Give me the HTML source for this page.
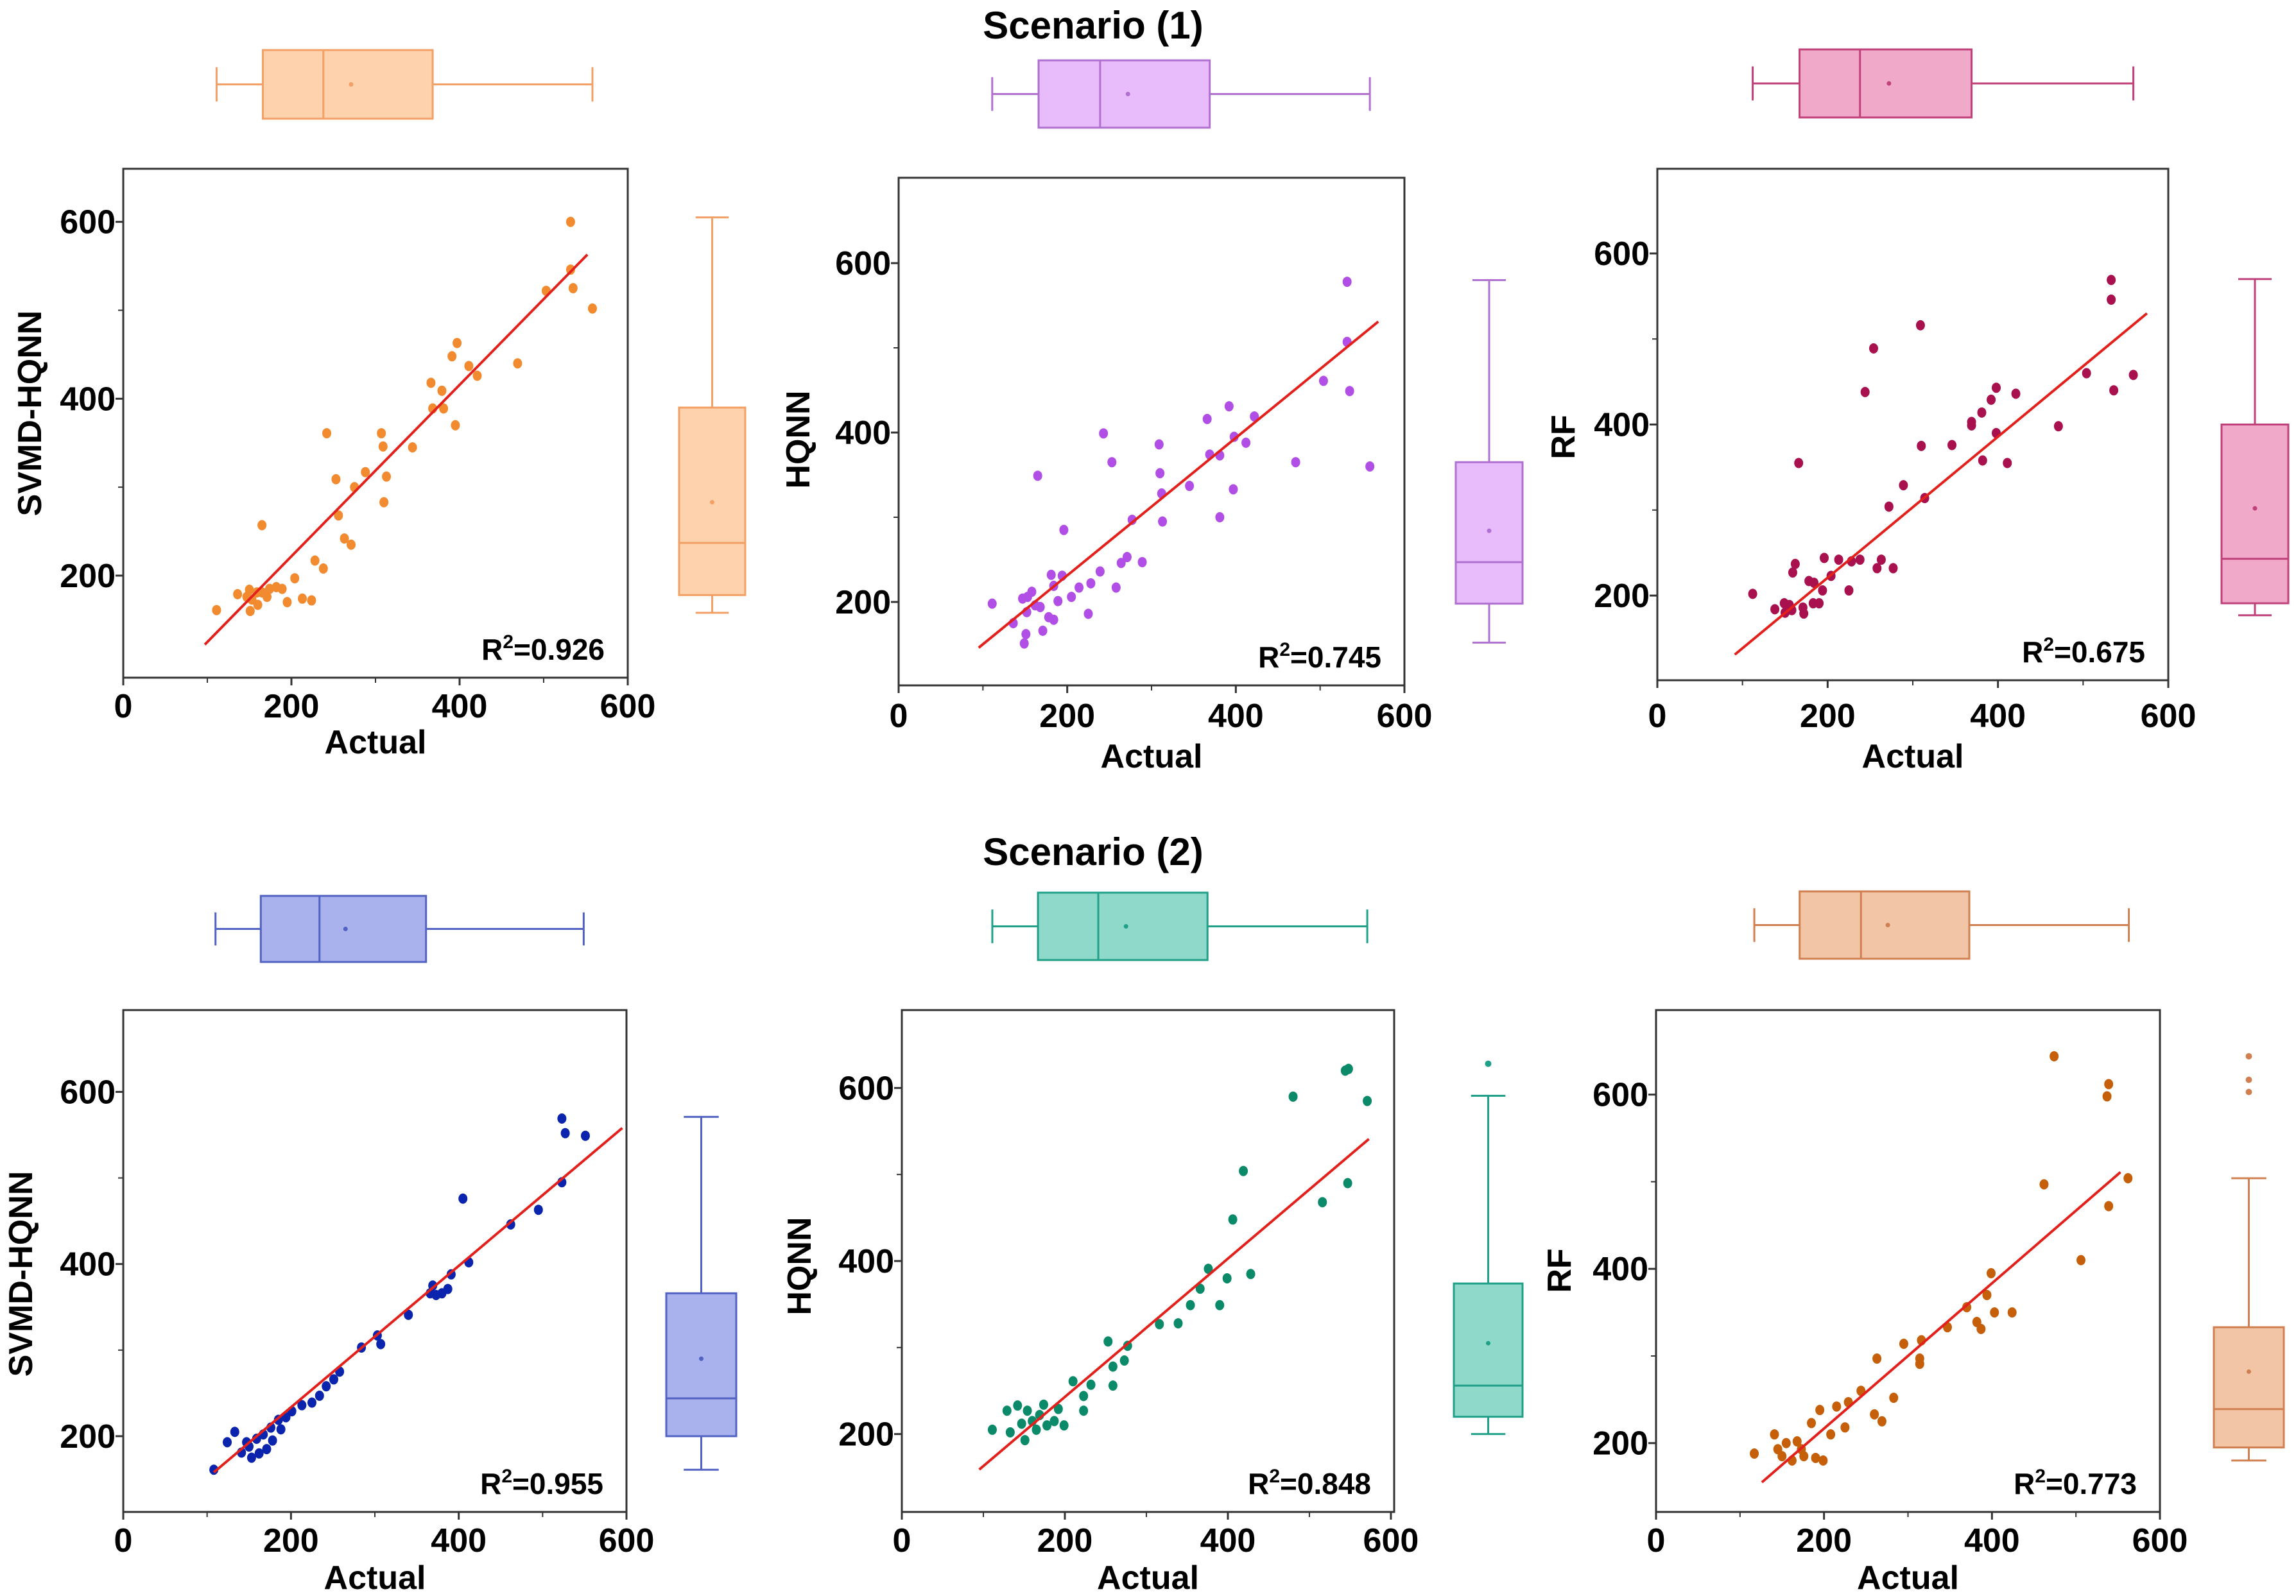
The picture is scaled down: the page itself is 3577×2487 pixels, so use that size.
<!DOCTYPE html>
<html><head><meta charset="utf-8"><title>Scenario scatter plots</title>
<style>
html,body{margin:0;padding:0;background:#fff;}
svg{display:block;font-family:"Liberation Sans",Arial,sans-serif;}
</style></head>
<body>
<svg id="chart" width="3577" height="2487" viewBox="0 0 3577 2487" xmlns="http://www.w3.org/2000/svg">
<rect x="0" y="0" width="3577" height="2487" fill="#fff"/>
<text x="1703" y="60" font-size="60" font-weight="bold" text-anchor="middle">Scenario (1)</text>
<text x="1703" y="1348" font-size="60" font-weight="bold" text-anchor="middle">Scenario (2)</text>
</svg>
<script>
// ---------- shared tick labels ----------
const xTicks = [0, 200, 400, 600];
const yTicks = [200, 400, 600];
const xMinorTicks = [100, 300, 500];
const yMinorTicks = [300, 500];
const panelNames = ["SVMD-HQNN", "HQNN", "RF", "SVMD-HQNN", "HQNN", "RF"];
const r2Labels = ["0.926", "0.745", "0.675", "0.955", "0.848", "0.773"];

// ---------- Panel 1: Scenario 1, SVMD-HQNN ----------
const p1Actual = [532,532,535,503,558,397,391,411,421,469,366,379,368,381,395,242,307,309,344,288,253,313,275,310,256,165,263,271,228,238,204,136,150,159,174,182,189,171,153,160,151,195,213,224,111,147,165];
const p1Pred   = [600,546,525,522,502,463,448,437,426,440,418,409,389,389,370,361,361,346,345,317,309,312,300,283,268,257,242,235,217,208,197,179,184,181,185,187,185,176,173,167,160,170,174,172,161,176,181];
const p1FitX = [97, 552];
const p1FitY = [122, 563];
const p1TopBox = [111, 166, 238, 368, 558, 271];
const p1RightBox = [158, 178, 237, 390, 605, 283];
const p1Outliers = [];

// ---------- Panel 2: Scenario 1, HQNN ----------
const p2Actual = [532,532,504,535,559,471,392,422,366,398,412,369,381,397,381,345,309,310,312,313,243,253,165,277,196,271,264,289,258,239,228,214,205,189,194,181,184,225,111,136,147,158,162,168,152,151,149,171,178,184,153];
const p2Pred   = [578,507,461,449,360,365,431,419,416,395,388,374,373,333,300,337,386,352,328,295,399,365,349,297,285,253,246,247,217,236,222,217,206,201,231,232,219,186,198,175,204,212,196,194,188,162,151,166,182,179,206];
const p2FitX = [95, 569];
const p2FitY = [146, 531];
const p2TopBox = [111, 166, 239, 369, 559, 272];
const p2RightBox = [152, 198, 247, 365, 580, 284];
const p2Outliers = [];

// ---------- Panel 3: Scenario 1, RF ----------
const p3Actual = [533,533,309,254,504,559,536,244,398,421,392,381,369,369,398,471,310,346,382,411,166,289,314,272,196,213,228,238,263,258,277,162,159,204,178,184,194,225,112,138,149,150,158,171,172,183,190,155];
const p3Pred   = [569,546,516,489,460,458,440,438,443,436,429,414,403,399,390,398,375,376,358,355,355,329,314,304,244,242,240,242,242,232,232,237,227,223,217,215,206,206,202,184,191,180,183,186,179,191,191,189];
const p3FitX = [91, 575];
const p3FitY = [131, 530];
const p3TopBox = [112, 167, 238, 369, 559, 272];
const p3RightBox = [177, 191, 243, 400, 570, 302];
const p3Outliers = [];

// ---------- Panel 4: Scenario 2, SVMD-HQNN ----------
const p4Actual = [108,523,527,551,523,495,462,405,412,387,391,366,373,380,369,340,303,307,284,258,251,242,234,225,213,201,194,185,176,167,159,150,141,133,162,171,153,178,188,124,147];
const p4Pred   = [161,569,552,549,495,463,446,476,402,371,388,366,364,366,375,341,317,307,303,275,266,258,247,239,236,229,222,219,210,202,197,188,181,205,180,185,175,195,208,193,193];
const p4FitX = [108, 595];
const p4FitY = [158, 558];
const p4TopBox = [110, 164, 234, 361, 549, 265];
const p4RightBox = [161, 200, 244, 366, 571, 290];
const p4Outliers = [];

// ---------- Panel 5: Scenario 2, HQNN ----------
const p5Actual = [548,544,571,480,547,516,419,406,428,399,376,390,354,366,316,339,273,259,277,253,232,223,210,192,174,160,142,129,111,133,151,165,178,187,154,169,147,199,223,259];
const p5Pred   = [622,620,585,590,490,468,504,448,385,380,391,349,349,368,327,328,285,278,302,307,257,244,261,229,234,215,233,227,205,202,193,205,210,215,227,222,212,210,227,256];
const p5FitX = [95, 573];
const p5FitY = [159, 541];
const p5TopBox = [111, 167, 241, 375, 571, 275];
const p5RightBox = [200, 220, 256, 374, 591, 305];
const p5Outliers = [628];

// ---------- Panel 6: Scenario 2, RF ----------
const p6Actual = [474,539,537,562,462,539,506,399,394,424,370,382,387,403,347,316,295,314,314,263,283,260,269,244,229,215,195,185,225,208,141,117,155,173,190,162,150,176,199,145,168];
const p6Pred   = [644,612,598,504,497,472,410,395,370,350,356,339,331,350,333,318,314,297,291,297,252,233,225,260,247,242,238,223,218,210,210,188,200,193,183,180,185,185,180,193,202];
const p6FitX = [126, 553];
const p6FitY = [155, 511];
const p6TopBox = [117, 171, 244, 373, 563, 276];
const p6RightBox = [180, 195, 239, 333, 504, 282];
const p6Outliers = [644, 617, 603];

// ---------- layout (pixel geometry, not data) ----------
const layout = [
 {L:192,R:978,T:263,B:1056,xMax:600,yMin:84.6,yMax:660,tb:[78,185],rb:[1058,1161],yt:[46,644],xl:1100,xt:1156,pt:"#f28a30",bf:"#fdd2ad",bs:"#f2a066"},
 {L:1400,R:2188,T:277,B:1068,xMax:600,yMin:101.5,yMax:700.8,tb:[94,199],rb:[2268,2372],yt:[1243,685],xl:1115,xt:1178,pt:"#b14ee6",bf:"#e8bcfb",bs:"#b070d0"},
 {L:2582,R:3378,T:263,B:1060,xMax:600,yMin:101,yMax:699,tb:[77,183],rb:[3461,3565],yt:[2435,681],xl:1115,xt:1178,pt:"#a8104e",bf:"#f0a9c9",bs:"#c0407a"},
 {L:192,R:976,T:1574,B:2356,xMax:600,yMin:112,yMax:695,tb:[1396,1499],rb:[1038,1147],yt:[32,1985],xl:2400,xt:2458,pt:"#0a24ad",bf:"#a9b2ec",bs:"#5262c2"},
 {L:1405,R:2172,T:1574,B:2356,xMax:604,yMin:110,yMax:690,tb:[1391,1496],rb:[2265,2372],yt:[1245,1973],xl:2400,xt:2458,pt:"#0a8a68",bf:"#8ed9c9",bs:"#20a088"},
 {L:2580,R:3365,T:1574,B:2356,xMax:600,yMin:121,yMax:697,tb:[1389,1494],rb:[3449,3558],yt:[2429,1980],xl:2400,xt:2458,pt:"#c55f0a",bf:"#f1c5a5",bs:"#d08050"}
];
const actuals = [p1Actual,p2Actual,p3Actual,p4Actual,p5Actual,p6Actual];
const preds = [p1Pred,p2Pred,p3Pred,p4Pred,p5Pred,p6Pred];
const fitXs = [p1FitX,p2FitX,p3FitX,p4FitX,p5FitX,p6FitX];
const fitYs = [p1FitY,p2FitY,p3FitY,p4FitY,p5FitY,p6FitY];
const topBoxes = [p1TopBox,p2TopBox,p3TopBox,p4TopBox,p5TopBox,p6TopBox];
const rightBoxes = [p1RightBox,p2RightBox,p3RightBox,p4RightBox,p5RightBox,p6RightBox];
const outliers = [p1Outliers,p2Outliers,p3Outliers,p4Outliers,p5Outliers,p6Outliers];

const NS = "http://www.w3.org/2000/svg";
const svg = document.getElementById("chart");
function mk(tag, attrs, parent) {
  const e = document.createElementNS(NS, tag);
  for (const k in attrs) e.setAttribute(k, attrs[k]);
  (parent || svg).appendChild(e);
  return e;
}

layout.forEach((g, i) => {
  const sx = v => g.L + (v / g.xMax) * (g.R - g.L);
  const sy = v => g.B - (v - g.yMin) / (g.yMax - g.yMin) * (g.B - g.T);
  const grp = mk("g", {});
  
  

  const fr = mk("rect", {x:g.L, y:g.T, width:g.R-g.L, height:g.B-g.T, fill:"none", stroke:"#333", "stroke-width":3}, grp);
  
  

  xTicks.forEach(t => {
    const tk = mk("line", {x1:sx(t), x2:sx(t), y1:g.B, y2:g.B+12, stroke:"#333", "stroke-width":3}, grp);
    
    
    const lb = mk("text", {x:sx(t), y:g.xl+18, "font-size":52, "font-weight":"bold", "text-anchor":"middle"}, grp);
    lb.textContent = t;
    
    
  });
  xMinorTicks.forEach(t => {
    const tk = mk("line", {x1:sx(t), x2:sx(t), y1:g.B, y2:g.B+8, stroke:"#333", "stroke-width":2}, grp);
    
    
  });
  yTicks.forEach(t => {
    const tk = mk("line", {x1:g.L-12, x2:g.L, y1:sy(t), y2:sy(t), stroke:"#333", "stroke-width":3}, grp);
    
    
    const lb = mk("text", {x:g.L-12, y:sy(t)+18, "font-size":52, "font-weight":"bold", "text-anchor":"end"}, grp);
    lb.textContent = t;
    
    
  });
  yMinorTicks.forEach(t => {
    const tk = mk("line", {x1:g.L-8, x2:g.L, y1:sy(t), y2:sy(t), stroke:"#333", "stroke-width":2}, grp);
    
    
  });

  const xt = mk("text", {x:(g.L+g.R)/2, y:g.xt+18, "font-size":52, "font-weight":"bold", "text-anchor":"middle"}, grp);
  xt.textContent = "Actual";
  
  
  const yt = mk("text", {x:0, y:0, "font-size":52, "font-weight":"bold", "text-anchor":"middle", transform:"translate(" + (g.yt[0]+18) + "," + g.yt[1] + ") rotate(-90)"}, grp);
  yt.textContent = panelNames[i];
  
  

  actuals[i].forEach((a, j) => {
    const c = mk("ellipse", {cx:sx(a), cy:sy(preds[i][j]), rx:7, ry:8, fill:g.pt}, grp);
    
    
  });

  const fl = mk("line", {x1:sx(fitXs[i][0]), y1:sy(fitYs[i][0]), x2:sx(fitXs[i][1]), y2:sy(fitYs[i][1]), stroke:"#e3211c", "stroke-width":4}, grp);
  
  

  const r2 = mk("text", {x:g.R-36, y:g.B-28, "font-size":46, "font-weight":"bold", "text-anchor":"end"}, grp);
  r2.innerHTML = 'R<tspan dy="-18" font-size="30">2</tspan><tspan dy="18">=' + r2Labels[i] + '</tspan>';
  
  

  const tb = topBoxes[i];
  const y0 = g.tb[0], y1 = g.tb[1], ym = (y0 + y1) / 2, ch = (y1 - y0) * 0.25;
  const tg = mk("g", {stroke:g.bs, "stroke-width":3, fill:"none"}, grp);
  
  
  mk("line", {x1:sx(tb[0]), x2:sx(tb[1]), y1:ym, y2:ym}, tg);
  mk("line", {x1:sx(tb[3]), x2:sx(tb[4]), y1:ym, y2:ym}, tg);
  mk("line", {x1:sx(tb[0]), x2:sx(tb[0]), y1:ym-ch, y2:ym+ch}, tg);
  mk("line", {x1:sx(tb[4]), x2:sx(tb[4]), y1:ym-ch, y2:ym+ch}, tg);
  mk("rect", {x:sx(tb[1]), y:y0, width:sx(tb[3])-sx(tb[1]), height:y1-y0, fill:g.bf}, tg);
  mk("line", {x1:sx(tb[2]), x2:sx(tb[2]), y1:y0, y2:y1}, tg);
  mk("circle", {cx:sx(tb[5]), cy:ym, r:2, fill:g.bs}, tg);

  const rb = rightBoxes[i];
  const x0 = g.rb[0], x1 = g.rb[1], xm = (x0 + x1) / 2, cw = (x1 - x0) * 0.25;
  const rg = mk("g", {stroke:g.bs, "stroke-width":3, fill:"none"}, grp);
  
  
  mk("line", {x1:xm, x2:xm, y1:sy(rb[0]), y2:sy(rb[1])}, rg);
  mk("line", {x1:xm, x2:xm, y1:sy(rb[3]), y2:sy(rb[4])}, rg);
  mk("line", {x1:xm-cw, x2:xm+cw, y1:sy(rb[0]), y2:sy(rb[0])}, rg);
  mk("line", {x1:xm-cw, x2:xm+cw, y1:sy(rb[4]), y2:sy(rb[4])}, rg);
  mk("rect", {x:x0, y:sy(rb[3]), width:x1-x0, height:sy(rb[1])-sy(rb[3]), fill:g.bf}, rg);
  mk("line", {x1:x0, x2:x1, y1:sy(rb[2]), y2:sy(rb[2])}, rg);
  mk("circle", {cx:xm, cy:sy(rb[5]), r:2, fill:g.bs}, rg);
  outliers[i].forEach(o => {
    const od = mk("circle", {cx:xm, cy:sy(o), r:5, fill:g.bs, stroke:"none"}, grp);
    
    
  });
});
</script>
</body></html>
